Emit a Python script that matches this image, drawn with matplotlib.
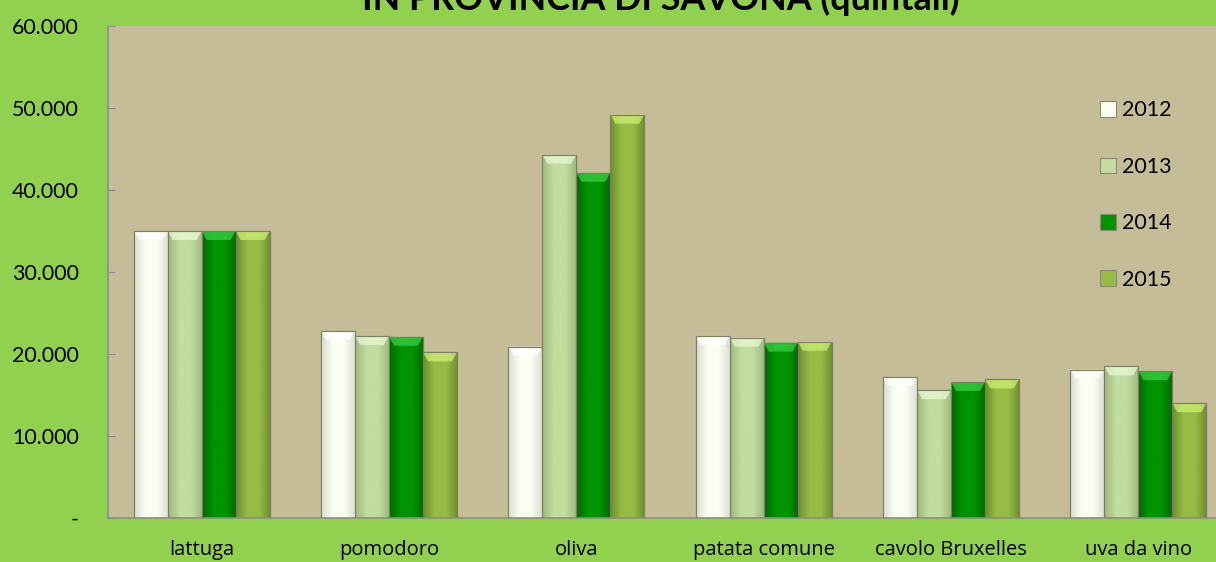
import numpy as np
import matplotlib.pyplot as plt
from matplotlib.patches import Polygon
from matplotlib.colors import LinearSegmentedColormap
from matplotlib.ticker import FuncFormatter

# data (quintali)
categories = ['lattuga', 'pomodoro', 'oliva', 'patata comune', 'cavolo Bruxelles', 'uva da vino']
years = ['2012', '2013', '2014', '2015']
v2012 = [35000, 22800, 20900, 22200, 17200, 18100]
v2013 = [35000, 22200, 44300, 22000, 15600, 18500]
v2014 = [35000, 22100, 42100, 21400, 16600, 17900]
v2015 = [35000, 20200, 49200, 21500, 16900, 14000]
series = [v2012, v2013, v2014, v2015]

# (edge, centre, top highlight) for each year
shades = [('#d9ddcf', '#fbfff2', '#ffffff'),
          ('#9fb77f', '#c2dd9f', '#eefad8'),
          ('#006800', '#009400', '#3fd34a'),
          ('#6e8d2c', '#97bc46', '#d4f37a')]

plt.rcParams['font.family'] = ['Lato', 'DejaVu Sans']

fig = plt.figure(figsize=(12.16, 5.62), dpi=100, facecolor='#92d050')
ax = fig.add_axes([108/1216, 44/562, 1124/1216, 492/562])
ax.set_facecolor('#c5bc98')

x = np.arange(len(categories))
w = 0.1815

handles = []
for i, vals in enumerate(series):
    edge, centre, hi = shades[i]
    bars = ax.bar(x + (i - 1.5) * w, vals, w, color=centre, edgecolor='#8a8a70',
                  linewidth=0.8, zorder=2, label=years[i])
    handles.append(bars)
    cmap = LinearSegmentedColormap.from_list('b%d' % i, [edge, centre, centre, edge])
    grad = np.linspace(0, 1, 64).reshape(1, -1)
    for b in bars:
        x0, y0 = b.get_x(), b.get_y()
        bw, bh = b.get_width(), b.get_height()
        im = ax.imshow(grad, cmap=cmap, aspect='auto', extent=(x0, x0 + bw, y0, y0 + bh),
                       zorder=2.5, interpolation='bicubic')
        im.set_clip_path(b)
        # bevelled top
        bev = 1100
        ax.add_patch(Polygon([(x0, y0 + bh), (x0 + bw, y0 + bh),
                              (x0 + bw * 0.85, y0 + bh - bev), (x0 + bw * 0.15, y0 + bh - bev)],
                             closed=True, facecolor=hi, edgecolor='none', alpha=0.7, zorder=2.7))
        ax.add_patch(plt.Rectangle((x0, y0), bw, bh, fill=False, edgecolor='#7d7d66',
                                   linewidth=0.8, zorder=2.8))

ax.set_ylim(0, 60000)
ax.set_xlim(-0.5, len(categories) - 0.5)

ax.set_yticks(np.arange(0, 60001, 10000))
ax.yaxis.set_major_formatter(FuncFormatter(lambda v, p: '-' if v == 0 else f'{int(v):,}'.replace(',', '.')))
ax.set_xticks(x)
ax.set_xticklabels(categories, fontfamily=['Open Sans', 'DejaVu Sans'])
ax.tick_params(axis='y', direction='in', length=5, color='#8c8c8c', labelsize=15.4, pad=21)
ax.tick_params(axis='x', direction='in', length=5, color='#8c8c8c', labelsize=14.5, pad=15.5)

for s in ['top', 'right']:
    ax.spines[s].set_visible(False)
for s in ['left', 'bottom']:
    ax.spines[s].set_color('#8c8c8c')
    ax.spines[s].set_linewidth(1.2)

fig.text(661/1216, 1 - 10/562, 'IN PROVINCIA DI SAVONA (quintali)', ha='center', va='baseline',
         fontsize=25.8, fontweight='bold')

leg = ax.legend(handles=handles, loc='center left', bbox_to_anchor=(1100/1216, 367/562),
                bbox_transform=fig.transFigure, frameon=False, fontsize=15.4,
                borderpad=0, borderaxespad=0,
                handlelength=0.75, handleheight=0.75, handletextpad=0.28, labelspacing=1.7)

plt.savefig('out.png', dpi=100, facecolor=fig.get_facecolor())
